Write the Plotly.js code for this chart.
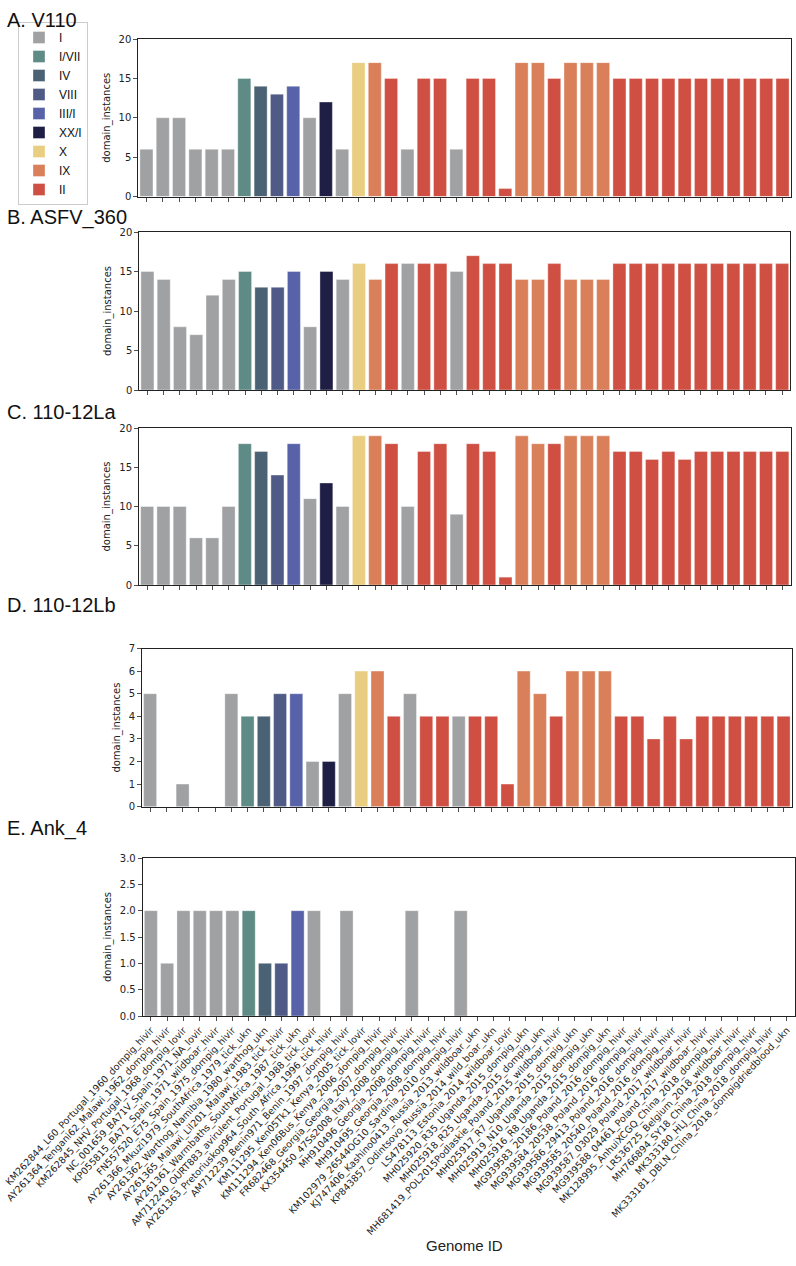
<!DOCTYPE html>
<html>
<head>
<meta charset="utf-8">
<script src="https://cdn.plot.ly/plotly-3.0.1.min.js"></script>
<style>html,body{margin:0;padding:0;background:#fff;}#chart{width:796px;height:1266px;}</style>
</head>
<body>
<div id="chart"></div>
<script>
// ---- data ----
const genomeIds = [
  "KM262844_L60_Portugal_1960_dompig_hivir",
  "AY261364_Tengani62_Malawi_1962_dompig_hivir",
  "KM262845_NHV_Portugal_1968_dompig_lovir",
  "NC_001659_BA71V_Spain_1971_NA_lovir",
  "KP055815_BA71_Spain_1971_wildboar_hivir",
  "FN557520_E75_Spain_1975_dompig_hivir",
  "AY261366_Mkuzi1979_SouthAfrica_1979_tick_ukn",
  "AY261362_Warthog_Namibia_1980_warthog_ukn",
  "AY261365_Malawi_Lil201_Malawi_1983_tick_hivir",
  "AY261361_Warmbaths_SouthAfrica_1987_tick_ukn",
  "AM712240_OURT883_avirulent_Portugal_1988_tick_lovir",
  "AY261363_Pretoriuskop964_South_Africa_1996_tick_hivir",
  "AM712239_Benin971_Benin_1997_dompig_hivir",
  "KM111295_Ken05Tk1_Kenya_2005_tick_lovir",
  "KM111294_Ken06Bus_Kenya_2006_dompig_hivir",
  "FR682468_Georgia_Georgia_2007_dompig_hivir",
  "KX354450_47Ss2008_Italy_2008_dompig_hivir",
  "MH910496_Georgia_2008_dompig_hivir",
  "MH910495_Georgia_2008_dompig_hivir",
  "KM102979_26544OG10_Sardinia_2010_dompig_hivir",
  "KJ747406_Kashino0413_Russia_2013_wildboar_ukn",
  "KP843857_Odintsovo_Russia_2014_wild_boar_ukn",
  "LS478113_Estonia_2014_wildboar_lovir",
  "MH025920_R35_Uganda_2015_dompig_ukn",
  "MH025918_R25_Uganda_2015_dompig_ukn",
  "MH681419_POL2015Podlaskie_Poland_2015_wildboar_hivir",
  "MH025917_R7_Uganda_2015_dompig_ukn",
  "MH025919_N10_Uganda_2015_dompig_ukn",
  "MH025916_R8_Uganda_2015_dompig_ukn",
  "MG939583_20186_Poland_2016_dompig_hivir",
  "MG939584_20538_Poland_2016_dompig_hivir",
  "MG939586_29413_Poland_2016_dompig_hivir",
  "MG939585_20540_Poland_2016_dompig_hivir",
  "MG939587_03029_Poland_2017_wildboar_hivir",
  "MG939588_04461_Poland_2017_wildboar_hivir",
  "MK128995_AnhuiXCGQ_China_2018_dompig_hivir",
  "LR536725_Belgium_2018_wildboar_hivir",
  "MH766894_SY18_China_2018_dompig_hivir",
  "MK333180_HLJ_China_2018_dompig_hivir",
  "MK333181_DBLN_China_2018_dompigdriedblood_ukn"
];

const genotypeOfGenome = [
  "I","I","I","I","I","I","I/VII","IV","VIII","III/I",
  "I","XX/I","I","X","IX","II","I","II","II","I",
  "II","II","II","IX","IX","II","IX","IX","IX","II",
  "II","II","II","II","II","II","II","II","II","II"
];

const genotypes = ["I","I/VII","IV","VIII","III/I","XX/I","X","IX","II"];
const genotypeColors = ["#a0a1a3","#5f8b86","#4a6274","#4f5a86","#5862a8","#1f1f46","#e9cd80","#d9805a","#cf4f42"];

const panelTitles = ["A. V110","B. ASFV_360","C. 110-12La","D. 110-12Lb","E. Ank_4"];

const v110 = [6,10,10,6,6,6,15,14,13,14, 10,12,6,17,17,15,6,15,15,6, 15,15,1,17,17,15,17,17,17,15, 15,15,15,15,15,15,15,15,15,15];
const asfv360 = [15,14,8,7,12,14,15,13,13,15, 8,15,14,16,14,16,16,16,16,15, 17,16,16,14,14,16,14,14,14,16, 16,16,16,16,16,16,16,16,16,16];
const la110_12 = [10,10,10,6,6,10,18,17,14,18, 11,13,10,19,19,18,10,17,18,9, 18,17,1,19,18,18,19,19,19,17, 17,16,17,16,17,17,17,17,17,17];
const lb110_12 = [5,0,1,0,0,5,4,4,5,5, 2,2,5,6,6,4,5,4,4,4, 4,4,1,6,5,4,6,6,6,4, 4,3,4,3,4,4,4,4,4,4];
const ank4 = [2,1,2,2,2,2,2,1,1,2, 2,0,2,0,0,0,2,0,0,2, 0,0,0,0,0,0,0,0,0,0, 0,0,0,0,0,0,0,0,0,0];

const panelValues = [v110, asfv360, la110_12, lb110_12, ank4];
const yRanges = [[0,20],[0,20],[0,20],[0,7],[0,3]];
const yDticks = [5,5,5,1,0.5];

// ---- layout geometry (pixels) ----
const W = 796, H = 1266;
const plotBoxes = [ // [left, right, top, bottom] in px
  [138.3, 790.7, 39, 196.5],
  [139.3, 790.3, 232, 390],
  [139.0, 790.5, 428, 585],
  [142.0, 791.7, 648.5, 806.7],
  [142.7, 795.0, 858, 1016]
];
const titleY = [20, 217, 412, 605, 828];

const traces = [];
panelValues.forEach((vals, p) => {
  genotypes.forEach((g, gi) => {
    const xs = [], ys = [];
    genomeIds.forEach((id, i) => {
      if (genotypeOfGenome[i] === g) { xs.push(id); ys.push(vals[i]); }
    });
    traces.push({
      type: "bar",
      x: xs, y: ys,
      name: g,
      legendgroup: g,
      showlegend: p === 0,
      marker: {color: genotypeColors[gi], line: {color: "rgba(255,255,255,0.6)", width: 0.6}},
      xaxis: p === 0 ? "x" : "x" + (p + 1),
      yaxis: p === 0 ? "y" : "y" + (p + 1),
      hoverinfo: "x+y+name"
    });
  });
});

const tickFont = {family: "DejaVu Sans", size: 10, color: "#222"};
const layout = {
  width: W, height: H,
  margin: {l: 0, r: 0, t: 0, b: 0},
  paper_bgcolor: "#fff", plot_bgcolor: "#fff",
  barmode: "overlay",
  bargap: 0.2,
  showlegend: true,
  legend: {
    x: 18 / W, y: 1 - 22 / H, xanchor: "left", yanchor: "top",
    bordercolor: "#cccccc", borderwidth: 1, bgcolor: "#fff",
    font: {family: "Liberation Sans", size: 12, color: "#111"},
    tracegroupgap: 0, traceorder: "normal", itemwidth: 30
  },
  annotations: [],
  font: {family: "DejaVu Sans", color: "#222"}
};

plotBoxes.forEach((b, p) => {
  const xa = p === 0 ? "xaxis" : "xaxis" + (p + 1);
  const ya = p === 0 ? "yaxis" : "yaxis" + (p + 1);
  const yid = p === 0 ? "y" : "y" + (p + 1);
  const xid = p === 0 ? "x" : "x" + (p + 1);
  layout[xa] = {
    domain: [b[0] / W, b[1] / W],
    anchor: yid,
    type: "category",
    categoryorder: "array",
    categoryarray: genomeIds,
    range: [-0.5, genomeIds.length - 0.5],
    showline: true, mirror: true, linecolor: "#222", linewidth: 1,
    ticks: "outside", ticklen: 4, tickcolor: "#222", tickwidth: 0.8,
    showticklabels: p === 4,
    tickangle: -47,
    tickfont: {family: "DejaVu Sans", size: 9.5, color: "#222"},
    showgrid: false, zeroline: false, automargin: false, fixedrange: true
  };
  layout[ya] = {
    domain: [1 - b[3] / H, 1 - b[2] / H],
    anchor: xid,
    range: yRanges[p],
    dtick: yDticks[p],
    tick0: 0,
    tickformat: p === 4 ? ".1f" : "d",
    showline: true, mirror: true, linecolor: "#222", linewidth: 1,
    ticks: "outside", ticklen: 4, tickcolor: "#222", tickwidth: 0.8,
    tickfont: tickFont,
    title: {text: "domain_instances", font: {family: "DejaVu Sans", size: 10, color: "#222"}, standoff: 6},
    showgrid: false, zeroline: false, automargin: false, fixedrange: true
  };
  layout.annotations.push({
    text: panelTitles[p], xref: "paper", yref: "paper",
    x: 5 / W, y: 1 - titleY[p] / H, xanchor: "left", yanchor: "middle",
    showarrow: false, font: {family: "Liberation Sans", size: 20, color: "#111"}
  });
});

// x-axis title of the bottom panel
layout.annotations.push({
  text: "Genome ID", xref: "paper", yref: "paper",
  x: 465 / W, y: 1 - 1245 / H, xanchor: "center", yanchor: "middle",
  showarrow: false, font: {family: "Liberation Sans", size: 15, color: "#222"}
});

Plotly.newPlot("chart", traces, layout, {displayModeBar: false, staticPlot: true});
</script>
</body>
</html>
